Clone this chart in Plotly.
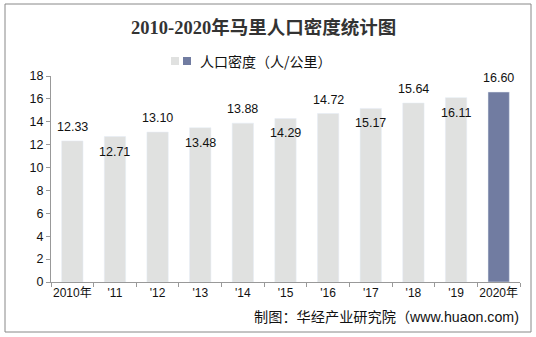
import plotly.graph_objects as go

# Mali population density, 2010-2020 (persons per km²)
years = ["2010年", "'11", "'12", "'13", "'14", "'15", "'16", "'17", "'18", "'19", "2020年"]
density = [12.33, 12.71, 13.10, 13.48, 13.88, 14.29, 14.72, 15.17, 15.64, 16.11, 16.60]

light = "#E0E1E0"
dark = "#717CA1"
bar_colors = [light] * (len(years) - 1) + [dark]

W, H = 536, 337
L, R, T, B = 51, 16, 76, 55
pw, ph = W - L - R, H - T - B

def px(x):
    return (x - L) / pw

def py(y):
    return (H - B - y) / ph

fig = go.Figure()
fig.add_trace(go.Bar(
    x=years, y=density, marker_color=bar_colors, width=0.5,
    showlegend=False, hoverinfo="x+y",
))

label_font = dict(family="Liberation Sans, Arial", size=12.5, color="#111")
annotations = []
for i, (yr, v) in enumerate(zip(years, density)):
    above = (i % 2 == 0)
    annotations.append(dict(
        x=yr, y=v, xref="x", yref="y", text=f"{v:.2f}", showarrow=False,
        yanchor="bottom" if above else "top", yshift=5 if above else -6,
        font=label_font,
    ))

# title
annotations.append(dict(
    x=px(263), y=py(27), xref="paper", yref="paper", xanchor="center", yanchor="middle",
    text="<b>2010-2020年马里人口密度统计图</b>", showarrow=False,
    font=dict(family="Liberation Serif, Noto Sans CJK SC", size=18.5, color="#333"),
))
# legend text
annotations.append(dict(
    x=px(198), y=py(61), xref="paper", yref="paper", xanchor="left", yanchor="middle",
    text="人口密度（人/公里）", showarrow=False,
    font=dict(family="Noto Sans CJK SC", size=14, color="#111"),
))
# source
annotations.append(dict(
    x=px(521), y=py(317), xref="paper", yref="paper", xanchor="right", yanchor="middle",
    text="制图：华经产业研究院（www.huaon.com)", showarrow=False,
    font=dict(family="Liberation Sans, Noto Sans CJK SC", size=14.2, color="#111"),
))

shapes = [
    # outer frame
    dict(type="rect", xref="paper", yref="paper", x0=px(5), x1=px(531), y0=py(332), y1=py(4),
         line=dict(color="#888", width=1), fillcolor="rgba(0,0,0,0)"),
    # legend swatches
    dict(type="rect", xref="paper", yref="paper", x0=px(171), x1=px(179), y0=py(65), y1=py(57),
         line=dict(width=0), fillcolor=light),
    dict(type="rect", xref="paper", yref="paper", x0=px(183), x1=px(191), y0=py(65), y1=py(57),
         line=dict(width=0), fillcolor=dark),
]

fig.update_layout(
    width=W, height=H, margin=dict(l=L, r=R, t=T, b=B),
    paper_bgcolor="white", plot_bgcolor="white",
    annotations=annotations, shapes=shapes, bargap=0.5,
    font=dict(family="Liberation Sans, Arial, Noto Sans CJK SC", size=12, color="#111"),
)
fig.update_xaxes(
    showline=True, linecolor="#999", linewidth=1, ticks="outside", tickson="boundaries",
    ticklen=4, tickcolor="#999", showgrid=False, tickfont=dict(size=12), tickangle=0,
)
fig.update_yaxes(
    range=[0, 18], dtick=2, showline=True, linecolor="#999", linewidth=1,
    ticks="outside", ticklen=4, tickcolor="#999", showgrid=False, zeroline=False,
    tickfont=dict(size=12.5),
)

fig.write_html("out.html")
